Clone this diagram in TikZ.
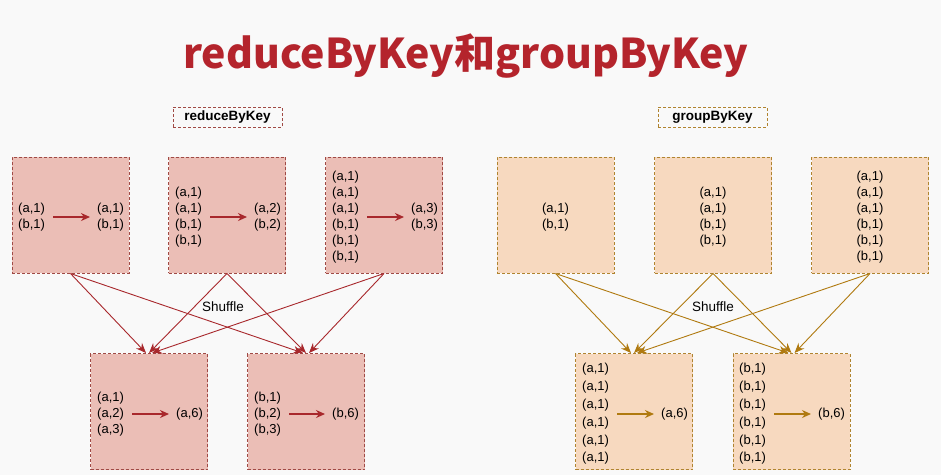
\documentclass[tikz,border=0pt]{standalone}
\usepackage{fontspec}
\setmainfont{Liberation Sans}
\newfontfamily\cjk{Noto Sans CJK SC}
\usetikzlibrary{arrows.meta}
\definecolor{bgcol}{HTML}{F9F9F9}
\definecolor{titlered}{HTML}{B4242C}
\definecolor{redline}{HTML}{A8282C}
\definecolor{redbox}{HTML}{A04A45}
\definecolor{redfill}{HTML}{EBBEB6}
\definecolor{goldline}{HTML}{B07A10}
\definecolor{goldbox}{HTML}{B08430}
\definecolor{goldfill}{HTML}{F7D9BF}
\tikzset{
  part/.style={draw, line width=1pt, dash pattern=on 3pt off 2pt, minimum width=117pt, minimum height=116pt, inner sep=0pt},
  tag/.style={draw, line width=1pt, dash pattern=on 3pt off 2pt, minimum width=109pt, minimum height=20pt, inner sep=0pt, font=\fontsize{13.5}{16}\selectfont\bfseries},
  pairs/.style={inner sep=0pt, align=left, font=\fontsize{13}{16}\selectfont},
  merge/.style={line width=1.5pt, shorten <=8pt, shorten >=7pt, -{Stealth[length=9pt,width=8pt]}},
  shuf/.style={line width=0.9pt, -{Stealth[length=10pt,width=8pt]}}
}
\begin{document}
\begin{tikzpicture}[x=1pt, y=-1pt]
    \fill[bgcol] (0, 0) rectangle (941, 475);
    \useasboundingbox (0, 0) rectangle (941, 475);
    \node[titlered, font=\cjk\bfseries\fontsize{41}{44}\selectfont] (title) at (466, 56) {reduceByKey和groupByKey};

    % reduceByKey
    \node[tag, draw=redbox] (rtag) at (227.5, 117) {reduceByKey};
    \node[part, draw=redbox, fill=redfill] (rb1) at (70.5, 215) {};
    \node[part, draw=redbox, fill=redfill] (rb2) at (227, 215) {};
    \node[part, draw=redbox, fill=redfill] (rb3) at (384, 215) {};
    \node[part, draw=redbox, fill=redfill] (rr1) at (149, 411.5) {};
    \node[part, draw=redbox, fill=redfill] (rr2) at (306, 411.5) {};
    \node[pairs, anchor=west] (rb1in) at (18, 217) {(a,1)\\(b,1)};
    \node[pairs, anchor=west] (rb1out) at (97, 217) {(a,1)\\(b,1)};
    \node[pairs, anchor=west] (rb2in) at (175, 217) {(a,1)\\(a,1)\\(b,1)\\(b,1)};
    \node[pairs, anchor=west] (rb2out) at (254, 217) {(a,2)\\(b,2)};
    \node[pairs, anchor=west] (rb3in) at (332, 217) {(a,1)\\(a,1)\\(a,1)\\(b,1)\\(b,1)\\(b,1)};
    \node[pairs, anchor=west] (rb3out) at (411, 217) {(a,3)\\(b,3)};
    \node[pairs, anchor=west] (rr1in) at (97, 414) {(a,1)\\(a,2)\\(a,3)};
    \node[pairs, anchor=west] (rr1out) at (176, 414) {(a,6)};
    \node[pairs, anchor=west] (rr2in) at (254, 414) {(b,1)\\(b,2)\\(b,3)};
    \node[pairs, anchor=west] (rr2out) at (332, 414) {(b,6)};
    \foreach \n in {rb1, rb2, rb3, rr1, rr2}
        \draw[merge, redline] (\n in.east) -- (\n out.west);
    \foreach \s/\d in {rb1/-3, rb2/0, rb3/3}
        \foreach \t in {rr1, rr2}
            \draw[shuf, redline] (\s.south) -- ([xshift=\d pt]\t.north);
    \node[font=\fontsize{13.5}{16}\selectfont] (rshuf) at (223, 307) {Shuffle};

    % groupByKey
    \node[tag, draw=goldbox] (gtag) at (712.5, 117) {groupByKey};
    \node[part, draw=goldbox, fill=goldfill] (gb1) at (555.5, 215) {};
    \node[part, draw=goldbox, fill=goldfill] (gb2) at (713, 215) {};
    \node[part, draw=goldbox, fill=goldfill] (gb3) at (870, 215) {};
    \node[part, draw=goldbox, fill=goldfill] (gr1) at (634, 411.5) {};
    \node[part, draw=goldbox, fill=goldfill] (gr2) at (791.5, 411.5) {};
    \node[pairs] (gb1in) at (555.5, 217) {(a,1)\\(b,1)};
    \node[pairs] (gb2in) at (713, 217) {(a,1)\\(a,1)\\(b,1)\\(b,1)};
    \node[pairs] (gb3in) at (870, 217) {(a,1)\\(a,1)\\(a,1)\\(b,1)\\(b,1)\\(b,1)};
    \node[pairs, anchor=west, font=\fontsize{13}{17.8}\selectfont] (gr1in) at (582, 414) {(a,1)\\(a,1)\\(a,1)\\(a,1)\\(a,1)\\(a,1)};
    \node[pairs, anchor=west] (gr1out) at (661, 414) {(a,6)};
    \node[pairs, anchor=west, font=\fontsize{13}{17.8}\selectfont] (gr2in) at (739, 414) {(b,1)\\(b,1)\\(b,1)\\(b,1)\\(b,1)\\(b,1)};
    \node[pairs, anchor=west] (gr2out) at (818, 414) {(b,6)};
    \foreach \n in {gr1, gr2}
        \draw[merge, goldline] (\n in.east) -- (\n out.west);
    \foreach \s/\d in {gb1/-3, gb2/0, gb3/3}
        \foreach \t in {gr1, gr2}
            \draw[shuf, goldline] (\s.south) -- ([xshift=\d pt]\t.north);
    \node[font=\fontsize{13.5}{16}\selectfont] (gshuf) at (713, 307) {Shuffle};
\end{tikzpicture}
\end{document}
